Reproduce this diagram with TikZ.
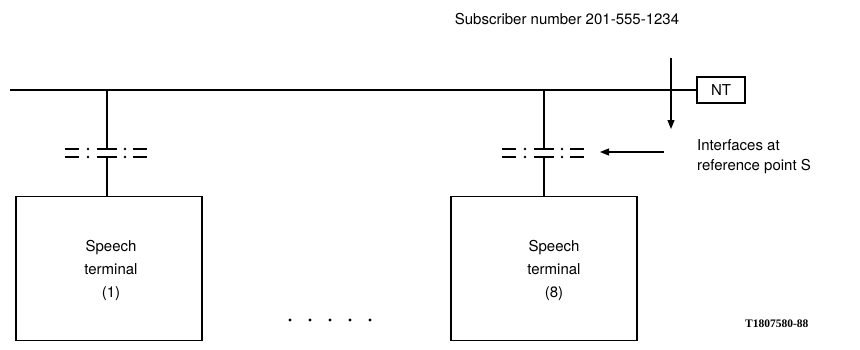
\documentclass[tikz,border=0pt]{standalone}
\usepackage{fontspec}
\setmainfont{TeX Gyre Heros}
\newfontfamily\codefont{Liberation Serif}
\usetikzlibrary{arrows.meta}
\begin{document}
\begin{tikzpicture}[x=1pt,y=-1pt,
  wire/.style={line width=1.1pt},
  term/.style={draw,line width=1.3pt,minimum width=186pt,minimum height=144pt,anchor=north,inner sep=0pt},
  lbl/.style={font=\fontsize{15}{18}\selectfont,inner sep=0pt},
  termtxt/.style={font=\fontsize{15}{23}\selectfont,align=center,inner sep=0pt},
  bar/.style={line width=1.9pt},
  pointer/.style={line width=1.1pt,-{Triangle[length=9pt,width=7pt]}}]
\useasboundingbox (0,0) rectangle (860,349);

% bus and network termination
\coordinate (busL) at (10,90);
\node[draw,line width=1.1pt,minimum width=48pt,minimum height=26pt,inner sep=0pt,lbl] (nt) at (721,90) {NT};
\draw[wire] (busL) -- (busL -| nt.west);

% subscriber number label and arrow
\node[lbl,anchor=base] (sub) at (567,24) {Subscriber number 201-555-1234};
\coordinate (arrTop) at (671,58);
\coordinate (arrTip) at (671,129);
\draw[pointer] (arrTop) -- (arrTip);

% interface label and arrow
\node[lbl,anchor=base west] (ifc) at (697,150) {Interfaces at};
\node[lbl,anchor=base west] (ifc2) at (697,170) {reference point S};
\coordinate (harrStart) at (664,152);
\coordinate (harrTip) at (600,152);
\draw[pointer] (harrStart) -- (harrTip);

% speech terminals
\node[term] (t1) at (109,196) {};
\node[term] (t8) at (544,196) {};
\node[termtxt,anchor=north] (t1txt) at ([xshift=2pt,yshift=-44pt]t1.north) {Speech\\terminal\\(1)};
\node[termtxt,anchor=north] (t8txt) at ([xshift=10pt,yshift=-44pt]t8.north) {Speech\\terminal\\(8)};

% drops with interface symbols
\foreach \n/\cx in {t1/107,t8/544}{
  \coordinate (\n up) at (\cx,149);
  \coordinate (\n lo) at (\cx,157);
  \draw[wire] (\cx,90) -- (\n up);
  \draw[wire] (\n lo) -- (\n lo |- \n.north);
  \foreach \yy in {149,157}{
    \draw[bar] (\cx-42,\yy) -- (\cx-28,\yy);
    \fill (\cx-19,\yy) circle (1.4pt);
    \draw[bar] (\cx-10,\yy) -- (\cx+10,\yy);
    \fill (\cx+18,\yy) circle (1.4pt);
    \draw[bar] (\cx+26,\yy) -- (\cx+40,\yy);
  }
}

% ellipsis between terminals
\foreach \i in {0,...,4}
  \fill (290+20*\i,320) circle (1.6pt);

% figure code
\node[font=\codefont\bfseries\fontsize{11.5}{13}\selectfont,anchor=base west,inner sep=0pt] (code) at (745,327) {T1807580-88};
\end{tikzpicture}
\end{document}
